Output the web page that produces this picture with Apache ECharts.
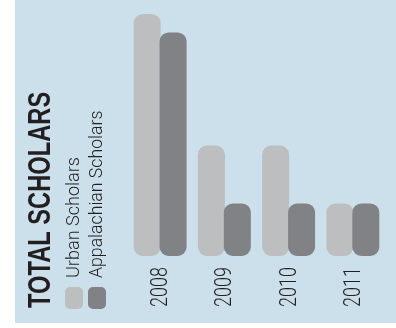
<!DOCTYPE html>
<html>
<head>
<meta charset="utf-8">
<script src="https://cdn.jsdelivr.net/npm/echarts@6/dist/echarts.min.js"></script>
<style>
    html, body { margin: 0; padding: 0; background: #fff; }
    #main { width: 396px; height: 328px; }
</style>
</head>
<body>
<div id="main"></div>
<script>
var years = ['2008', '2009', '2010', '2011'];
var urbanScholars = [46, 21, 21, 10];
var appalachianScholars = [42.5, 10, 10, 10];

var textColor = '#231f20';
var urbanColor = '#bcbec0';
var appColor = '#808285';

var chart = echarts.init(document.getElementById('main'));

// rotated text, squeezed horizontally to mimic a condensed face
function vText(x, y, text, font, squeeze, align) {
    return {
        type: 'text',
        x: x, y: y,
        rotation: Math.PI / 2,
        scaleX: squeeze,
        style: {
            text: text,
            font: font,
            fill: textColor,
            textAlign: align || 'left',
            textVerticalAlign: 'middle'
        }
    };
}

var graphics = [
    {
        type: 'rect',
        z: -10,
        shape: { x: 15, y: 0, width: 381, height: 323 },
        style: { fill: '#cbe0ea' }
    },
    vText(41, 308, 'TOTAL SCHOLARS', "bold 32px 'Liberation Sans', Arial, sans-serif", 0.74),
    vText(74, 278, 'Urban Scholars', "300 19px Roboto, 'Liberation Sans', sans-serif", 0.95),
    vText(97, 278, 'Appalachian Scholars', "300 19px Roboto, 'Liberation Sans', sans-serif", 0.93),
    {
        type: 'rect',
        shape: { x: 65, y: 287, width: 18, height: 22, r: 5 },
        style: { fill: urbanColor }
    },
    {
        type: 'rect',
        shape: { x: 88, y: 287, width: 18, height: 22, r: 5 },
        style: { fill: appColor }
    }
];

var option = {
    animation: false,
    graphic: graphics,
    grid: {
        left: 128,
        right: 11,
        top: 14,
        bottom: 72
    },
    xAxis: {
        type: 'category',
        data: years,
        axisLine: { show: false },
        axisTick: { show: false },
        axisLabel: { show: false }
    },
    yAxis: {
        type: 'value',
        min: 0,
        max: 46,
        show: false
    },
    series: [
        {
            name: 'Urban Scholars',
            type: 'bar',
            data: urbanScholars,
            barWidth: 27,
            barGap: '-4%',
            itemStyle: { color: urbanColor, borderRadius: 9 }
        },
        {
            name: 'Appalachian Scholars',
            type: 'bar',
            data: appalachianScholars,
            barWidth: 27,
            itemStyle: { color: appColor, borderRadius: 9 }
        }
    ]
};

chart.setOption(option);

// year labels under each category, placed with the axis scale
var base = chart.convertToPixel({ yAxisIndex: 0 }, 0);
years.forEach(function (year) {
    var x = chart.convertToPixel({ xAxisIndex: 0 }, year);
    graphics.push(vText(x + 1, base + 11, year, "300 24px Roboto, 'Liberation Sans', sans-serif", 0.75, 'right'));
});
chart.setOption({ graphic: graphics });
</script>
</body>
</html>
